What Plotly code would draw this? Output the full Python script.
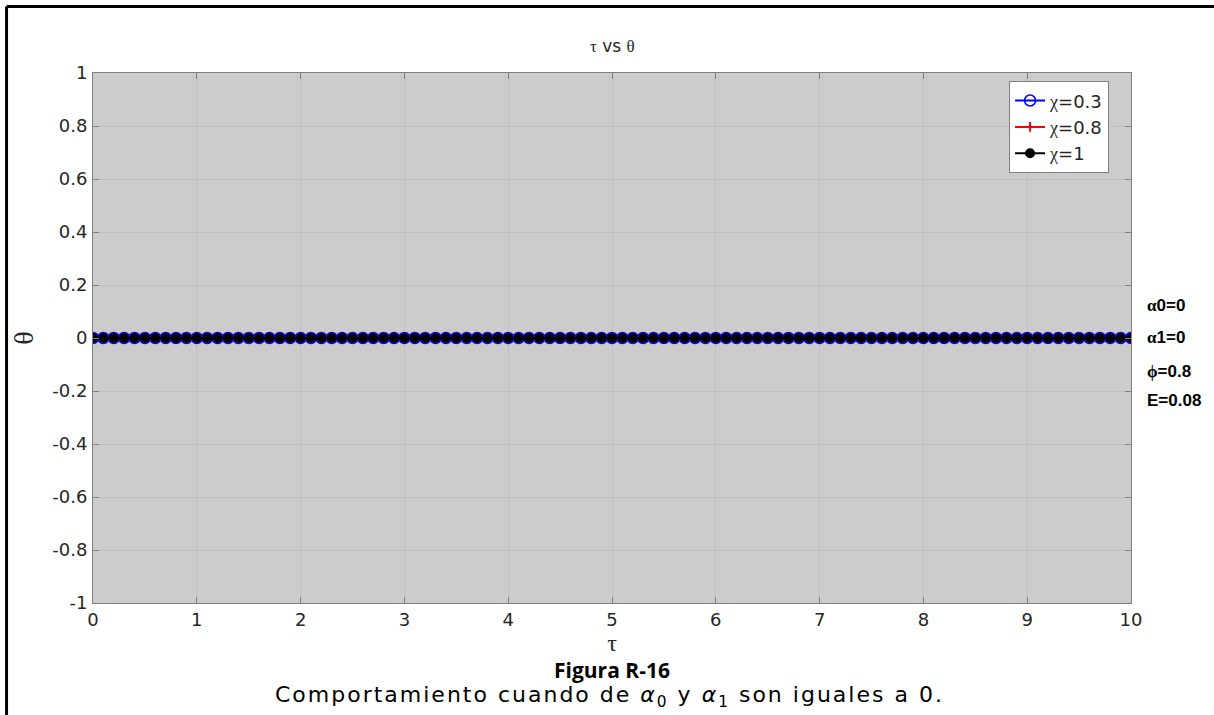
import plotly.graph_objects as go

tau = [0.0, 0.1, 0.2, 0.3, 0.4, 0.5, 0.6, 0.7, 0.8, 0.9,
       1.0, 1.1, 1.2, 1.3, 1.4, 1.5, 1.6, 1.7, 1.8, 1.9,
       2.0, 2.1, 2.2, 2.3, 2.4, 2.5, 2.6, 2.7, 2.8, 2.9,
       3.0, 3.1, 3.2, 3.3, 3.4, 3.5, 3.6, 3.7, 3.8, 3.9,
       4.0, 4.1, 4.2, 4.3, 4.4, 4.5, 4.6, 4.7, 4.8, 4.9,
       5.0, 5.1, 5.2, 5.3, 5.4, 5.5, 5.6, 5.7, 5.8, 5.9,
       6.0, 6.1, 6.2, 6.3, 6.4, 6.5, 6.6, 6.7, 6.8, 6.9,
       7.0, 7.1, 7.2, 7.3, 7.4, 7.5, 7.6, 7.7, 7.8, 7.9,
       8.0, 8.1, 8.2, 8.3, 8.4, 8.5, 8.6, 8.7, 8.8, 8.9,
       9.0, 9.1, 9.2, 9.3, 9.4, 9.5, 9.6, 9.7, 9.8, 9.9,
       10.0]
theta_chi03 = [0.0] * len(tau)
theta_chi08 = [0.0] * len(tau)
theta_chi1 = [0.0] * len(tau)

series_names = ["χ=0.3", "χ=0.8", "χ=1"]
x_ticks = [0, 1, 2, 3, 4, 5, 6, 7, 8, 9, 10]
y_ticks = [-1, -0.8, -0.6, -0.4, -0.2, 0, 0.2, 0.4, 0.6, 0.8, 1]
y_tick_text = ["-1", "-0.8", "-0.6", "-0.4", "-0.2", "0", "0.2", "0.4", "0.6", "0.8", "1"]
params = ["α0=0", "α1=0", "ϕ=0.8", "E=0.08"]

SERIF = "Liberation Serif"
SANS = "DejaVu Sans"

def greek(s):
    out = ""
    for ch in s:
        if ch in "τθχαϕ":
            out += f'<span style="font-family:{SERIF}">{ch}</span>'
        else:
            out += ch
    return out

fig = go.Figure()

# Draw order: blue rim underneath, red, black dots on top
fig.add_trace(go.Scatter(
    x=tau, y=theta_chi03, name=greek(series_names[0]), mode="lines+markers",
    line=dict(color="blue", width=2),
    marker=dict(symbol="circle-open", size=11, color="blue", line=dict(color="blue", width=1.5)),
    legendrank=1))
fig.add_trace(go.Scatter(
    x=tau, y=theta_chi08, name=greek(series_names[1]), mode="lines+markers",
    line=dict(color="red", width=2),
    marker=dict(symbol="cross-thin-open", size=7, color="red", line=dict(color="red", width=2)),
    legendrank=2))
fig.add_trace(go.Scatter(
    x=tau, y=theta_chi1, name=greek(series_names[2]), mode="lines+markers",
    line=dict(color="black", width=2),
    marker=dict(symbol="circle", size=10, color="black", line=dict(width=0)),
    legendrank=3))

axis_common = dict(
    showline=True, linecolor="#808080", linewidth=1, mirror="ticks",
    ticks="inside", ticklen=6, tickcolor="#808080",
    showgrid=True, gridcolor="#bfbfbf", gridwidth=1, zeroline=False,
    tickfont=dict(family=SANS, size=18, color="#262626"),
)

fig.update_xaxes(range=[0, 10], tickvals=x_ticks, **axis_common,
                 title=dict(text=greek("τ"), font=dict(family=SERIF, size=24, color="#262626"), standoff=4))
fig.update_yaxes(range=[-1, 1], tickvals=y_ticks, ticktext=y_tick_text, **axis_common,
                 ticklabelstandoff=1,
                 title=dict(text=greek("θ"), font=dict(family=SERIF, size=28, color="#262626"), standoff=10))

W, H = 1214, 715
L, R, T, B = 92.5, 1131, 72.7, 603.5

def px(xp):
    return (xp - L) / (R - L)

def py(yp):
    return (B - yp) / (B - T)

annotations = [
    dict(text=greek("τ") + " vs " + greek("θ"), x=px(612), y=py(46), xref="paper", yref="paper",
         showarrow=False, font=dict(family=SANS, size=17, color="#262626"), xanchor="center", yanchor="middle"),
    dict(text="<b>Figura R-16</b>", x=px(612), y=py(671), xref="paper", yref="paper",
         showarrow=False, font=dict(family="Open Sans", size=21, color="black"),
         xanchor="center", yanchor="middle"),
    dict(text='<span style="letter-spacing:2px">Comportamiento cuando de <i>α</i><sub>0</sub> y '
              '<i>α</i><sub>1</sub> son iguales a 0.</span>',
         x=px(609), y=py(697), xref="paper", yref="paper",
         showarrow=False, font=dict(family="DejaVu Sans", size=22, color="black"),
         xanchor="center", yanchor="middle"),
]
param_y = [306, 338, 372, 401]
for text, yy in zip(params, param_y):
    annotations.append(dict(text="<b>" + greek(text) + "</b>", x=px(1145), y=py(yy), xref="paper", yref="paper",
                            showarrow=False, font=dict(family="Arial", size=17, color="black"),
                            xanchor="left", yanchor="middle"))

shapes = [
    dict(type="line", xref="paper", yref="paper", x0=px(6), x1=px(1220), y0=py(6), y1=py(6),
         line=dict(color="black", width=3)),
    dict(type="line", xref="paper", yref="paper", x0=px(6), x1=px(6), y0=py(6), y1=py(720),
         line=dict(color="black", width=3)),
]

fig.update_layout(
    width=W, height=H,
    margin=dict(l=L, r=W - R, t=T, b=H - B, autoexpand=False),
    paper_bgcolor="white", plot_bgcolor="#cccccc",
    showlegend=True,
    legend=dict(x=px(1009), y=py(81), xanchor="left", yanchor="top",
                bgcolor="white", bordercolor="#808080", borderwidth=1,
                font=dict(family=SANS, size=18, color="#262626"),
                tracegroupgap=0),
    annotations=annotations, shapes=shapes,
)

fig.write_html("out.html", config={"displayModeBar": False},
               post_script="document.body.style.margin='0';document.body.style.overflow='hidden';")
